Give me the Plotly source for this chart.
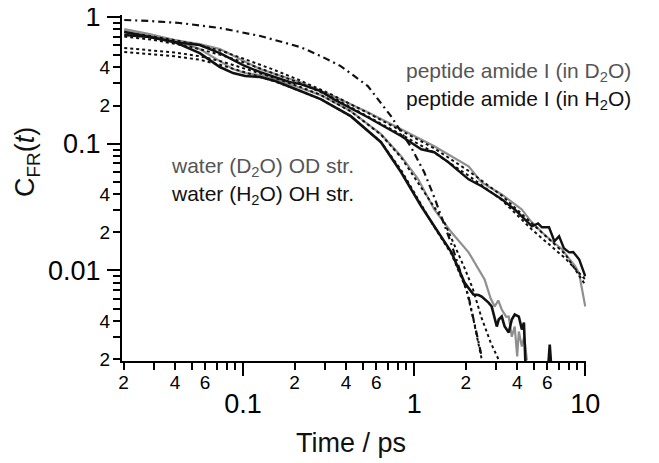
import math
import plotly.graph_objects as go

# ---------------- data ----------------
# dash-dot reference curve
t_dashdot = [0.0202, 0.0284, 0.0426, 0.0732, 0.126, 0.2165, 0.284, 0.372, 0.536, 0.732, 0.96, 1.145, 1.311, 1.651, 2.08, 2.48]
c_dashdot = [0.947, 0.930, 0.897, 0.819, 0.708, 0.579, 0.492, 0.410, 0.285, 0.165, 0.0938, 0.0595, 0.0378, 0.0161, 0.0062, 0.0021]

# water (H2O) OH stretch, black solid
t_water_h2o = [0.0202, 0.0284, 0.0398, 0.0558, 0.0732, 0.0874, 0.1028, 0.126, 0.154, 0.189, 0.284, 0.426, 0.64, 0.839,
               1.10, 1.311, 1.651, 1.968, 2.22, 2.38, 2.48, 2.72, 2.84, 3.04, 3.12, 3.25, 3.38, 3.57, 3.72, 3.87,
               4.09, 4.26, 4.38, 4.44, 4.47, None, 6.1, 6.2, 6.3]
c_water_h2o = [0.761, 0.695, 0.634, 0.519, 0.403, 0.361, 0.342, 0.336, 0.312, 0.280, 0.225, 0.165, 0.1028, 0.0595,
               0.0321, 0.0223, 0.0139, 0.00803, 0.00646, 0.0064, 0.00623, 0.00558, 0.00519, 0.00361, 0.0041, 0.00433, 0.00361, 0.00324, 0.0041, 0.00449,
               0.00433, 0.00342, 0.00388, 0.00237, 0.00185, None, 0.0019, 0.0026, 0.0019]

# water (D2O) OD stretch, gray solid
t_water_d2o = [0.0202, 0.0284, 0.0398, 0.0558, 0.0732, 0.0874, 0.1028, 0.126, 0.154, 0.189, 0.284, 0.426, 0.64, 0.839,
               1.056, 1.311, 1.651, 2.08, 2.58, 2.8, 2.955, 3.1, 3.25, 3.45, 3.57, 3.72, 3.87, 4.0, 4.09, 4.26, 4.4, 4.56]
c_water_d2o = [0.789, 0.721, 0.658, 0.558, 0.449, 0.388, 0.361, 0.348, 0.324, 0.295, 0.242, 0.181, 0.119, 0.0797,
               0.0524, 0.0303, 0.0200, 0.0139, 0.00849, 0.0060, 0.00519, 0.0058, 0.00492, 0.0043, 0.00433, 0.0030, 0.00361, 0.0021, 0.0033, 0.00251, 0.0030, 0.00195]

# peptide amide I (in H2O), black solid
t_pep_h2o = [0.0202, 0.0284, 0.0398, 0.0558, 0.0732, 0.1, 0.126, 0.189, 0.2165, 0.284, 0.338, 0.536, 0.839, 1.10,
             1.311, 1.585, 2.08, 2.48, 3.25, 3.87, 4.4, 4.88, 5.3, 5.58, 6.14, 6.6, 7.03, 7.5, 8.05, 8.5, 9.22, 9.6, 10.0]
c_pep_h2o = [0.721, 0.695, 0.634, 0.601, 0.519, 0.417, 0.367, 0.306, 0.295, 0.260, 0.225, 0.162, 0.115, 0.0904,
             0.0857, 0.0714, 0.0524, 0.0462, 0.0364, 0.0303, 0.0255, 0.0223, 0.0235, 0.0219, 0.0219, 0.0170, 0.0186, 0.0150, 0.0139, 0.0140, 0.0122, 0.0105, 0.0090]

# peptide amide I (in D2O), gray solid
t_pep_d2o = [0.0202, 0.0284, 0.0398, 0.0558, 0.0732, 0.1, 0.126, 0.189, 0.2165, 0.338, 0.536, 0.839, 1.311, 2.08,
             2.48, 3.25, 3.9, 4.26, 4.8, 5.58, 6.4, 7.32, 8.0, 8.73, 9.2, 9.6, 10.0]
c_pep_d2o = [0.804, 0.734, 0.658, 0.612, 0.558, 0.449, 0.388, 0.324, 0.306, 0.237, 0.177, 0.130, 0.0955, 0.0664,
             0.0496, 0.0398, 0.0330, 0.0303, 0.0245, 0.0200, 0.0170, 0.0147, 0.0125, 0.0108, 0.0095, 0.0071, 0.0052]

# fits (dotted)
t_fit_water_h2o = [0.0202, 0.0284, 0.0398, 0.0558, 0.0732, 0.1, 0.154, 0.2165, 0.284, 0.426, 0.64, 0.839, 1.1, 1.311, 1.651, 2.02, 2.22, 2.48]
c_fit_water_h2o = [0.529, 0.510, 0.490, 0.460, 0.420, 0.370, 0.310, 0.260, 0.225, 0.165, 0.103, 0.062, 0.033, 0.022, 0.0135, 0.0071, 0.0041, 0.0020]

t_fit_water_d2o = [0.0202, 0.0284, 0.0398, 0.0558, 0.0732, 0.1, 0.154, 0.2165, 0.284, 0.426, 0.64, 0.839, 1.1, 1.5, 1.968, 2.2, 2.48, 2.8, 3.16]
c_fit_water_d2o = [0.569, 0.550, 0.525, 0.490, 0.450, 0.395, 0.330, 0.280, 0.243, 0.180, 0.118, 0.078, 0.045, 0.024, 0.0105, 0.0072, 0.0042, 0.0027, 0.0019]

t_fit_pep_h2o = [0.0202, 0.03, 0.05, 0.075, 0.1, 0.15, 0.2165, 0.338, 0.536, 0.839, 1.311, 2.08, 3.25, 4.88, 7.62, 10.0]
c_fit_pep_h2o = [0.700, 0.660, 0.580, 0.500, 0.440, 0.360, 0.300, 0.230, 0.165, 0.118, 0.085, 0.056, 0.036, 0.021, 0.0125, 0.0085]

t_fit_pep_d2o = [0.0202, 0.03, 0.05, 0.075, 0.1, 0.15, 0.2165, 0.338, 0.536, 0.839, 1.311, 2.08, 3.25, 4.88, 7.62, 10.0]
c_fit_pep_d2o = [0.760, 0.700, 0.620, 0.540, 0.470, 0.385, 0.315, 0.240, 0.175, 0.127, 0.092, 0.061, 0.039, 0.0235, 0.0135, 0.0077]

# tick labels
x_small_tickvals = [0.02, 0.04, 0.06, 0.2, 0.4, 0.6, 2, 4, 6]
x_small_ticktext = ["2", "4", "6", "2", "4", "6", "2", "4", "6"]
x_minor_tickvals = [0.03, 0.05, 0.07, 0.08, 0.09, 0.3, 0.5, 0.7, 0.8, 0.9, 3, 5, 7, 8, 9]
x_decade_tickvals = [0.1, 1, 10]
x_decade_ticktext = ["0.1", "1", "10"]

y_small_tickvals = [0.002, 0.004, 0.02, 0.04, 0.2, 0.4]
y_small_ticktext = ["2", "4", "2", "4", "2", "4"]
y_minor_tickvals = [0.003, 0.005, 0.006, 0.007, 0.008, 0.009, 0.03, 0.05, 0.06, 0.07, 0.08, 0.09,
                    0.3, 0.5, 0.6, 0.7, 0.8, 0.9]
y_decade_tickvals = [0.01, 0.1, 1]
y_decade_ticktext = ["0.01", "0.1", "1"]

x_range = [0.0196, 10.1]
y_range = [0.00193, 1.037]

# ---------------- figure ----------------
FONT = "Liberation Sans, Arial, sans-serif"
BLACK = "#111111"
GRAY = "#8f8f8f"

fig = go.Figure()

def add_line(t, c, color, width, dash="solid"):
    fig.add_trace(go.Scatter(x=t, y=c, mode="lines", connectgaps=False,
                             line=dict(color=color, width=width, dash=dash),
                             showlegend=False, hoverinfo="skip"))

add_line(t_pep_d2o, c_pep_d2o, GRAY, 2.2)
add_line(t_water_d2o, c_water_d2o, GRAY, 2.2)
add_line(t_pep_h2o, c_pep_h2o, BLACK, 2.4)
add_line(t_water_h2o, c_water_h2o, BLACK, 2.6)
add_line(t_fit_water_h2o, c_fit_water_h2o, BLACK, 2, "dot")
add_line(t_fit_water_d2o, c_fit_water_d2o, BLACK, 2, "dot")
add_line(t_fit_pep_h2o, c_fit_pep_h2o, BLACK, 2, "dot")
add_line(t_fit_pep_d2o, c_fit_pep_d2o, BLACK, 2, "dot")
add_line(t_dashdot, c_dashdot, BLACK, 2.2, "7px,4px,2px,4px")

# dummy traces so the overlaid decade axes are drawn
fig.add_trace(go.Scatter(x=[1], y=[0.1], xaxis="x2", yaxis="y", mode="markers",
                         marker=dict(opacity=0), showlegend=False, hoverinfo="skip"))
fig.add_trace(go.Scatter(x=[1], y=[0.1], xaxis="x", yaxis="y2", mode="markers",
                         marker=dict(opacity=0), showlegend=False, hoverinfo="skip"))

lx = [math.log10(v) for v in x_range]
ly = [math.log10(v) for v in y_range]

common = dict(type="log", showgrid=False, zeroline=False, ticks="outside",
              tickcolor="black", tickwidth=1.6, automargin=False, ticklabeloverflow="allow")

# the page body adds an 8px offset, so margins are set 8px smaller on the left/top
fig.update_layout(
    width=659, height=463,
    margin=dict(l=114, r=81, t=7, b=110, autoexpand=False),
    paper_bgcolor="white", plot_bgcolor="white",
    font=dict(family=FONT, color="black"),
    xaxis=dict(**common, range=lx, tickvals=x_small_tickvals, ticktext=x_small_ticktext,
               ticklen=7, tickfont=dict(size=19, family=FONT), ticklabelstandoff=-4,
               showline=True, linecolor="black", linewidth=2,
               minor=dict(tickvals=x_minor_tickvals, ticks="outside", ticklen=7,
                          tickwidth=1.6, tickcolor="black", showgrid=False)),
    xaxis2=dict(**common, range=lx, overlaying="x", anchor="y", side="bottom",
                tickvals=x_decade_tickvals, ticktext=x_decade_ticktext,
                ticklen=14, tickfont=dict(size=27, family=FONT), ticklabelstandoff=5,
                showline=False),
    yaxis=dict(**common, range=ly, tickvals=y_small_tickvals, ticktext=y_small_ticktext,
               ticklen=7, tickfont=dict(size=19, family=FONT), ticklabelstandoff=-1,
               showline=True, linecolor="black", linewidth=2,
               minor=dict(tickvals=y_minor_tickvals, ticks="outside", ticklen=7,
                          tickwidth=1.6, tickcolor="black", showgrid=False)),
    yaxis2=dict(**common, range=ly, overlaying="y", anchor="x", side="left",
                tickvals=y_decade_tickvals, ticktext=y_decade_ticktext,
                ticklen=14, tickfont=dict(size=27, family=FONT), ticklabelstandoff=1,
                showline=False),
)

# positions below are given in the reference picture's pixels, relative to the plot area
PL, PR, PT, PB = 122, 586, 15, 361

def px(x):
    return (x - PL) / (PR - PL)

def py(y):
    return 1 - (y - PT) / (PB - PT)

ann = [
    dict(text="peptide amide I (in D<sub>2</sub>O)", x=px(404), y=py(72), color="#555555", xanchor="left"),
    dict(text="peptide amide I (in H<sub>2</sub>O)", x=px(404), y=py(100), color="#111111", xanchor="left"),
    dict(text="water (D<sub>2</sub>O) OD str.", x=px(169), y=py(167), color="#555555", xanchor="left"),
    dict(text="water (H<sub>2</sub>O) OH str.", x=px(169), y=py(195), color="#111111", xanchor="left"),
]
for a in ann:
    fig.add_annotation(text=a["text"], xref="paper", yref="paper", x=a["x"], y=a["y"],
                       xanchor=a["xanchor"], yanchor="middle", showarrow=False,
                       font=dict(size=21, family=FONT, color=a["color"]))

fig.add_annotation(text="Time / ps", xref="paper", yref="paper", x=px(351), y=py(443),
                   xanchor="center", yanchor="middle", showarrow=False,
                   font=dict(size=27, family=FONT, color="#111111"))
fig.add_annotation(text="C<sub>FR</sub>(<i>t</i>)", xref="paper", yref="paper", x=px(27), y=py(162),
                   xanchor="center", yanchor="middle", showarrow=False, textangle=-90,
                   font=dict(size=27, family=FONT, color="#111111"))

fig.write_html("out.html")
